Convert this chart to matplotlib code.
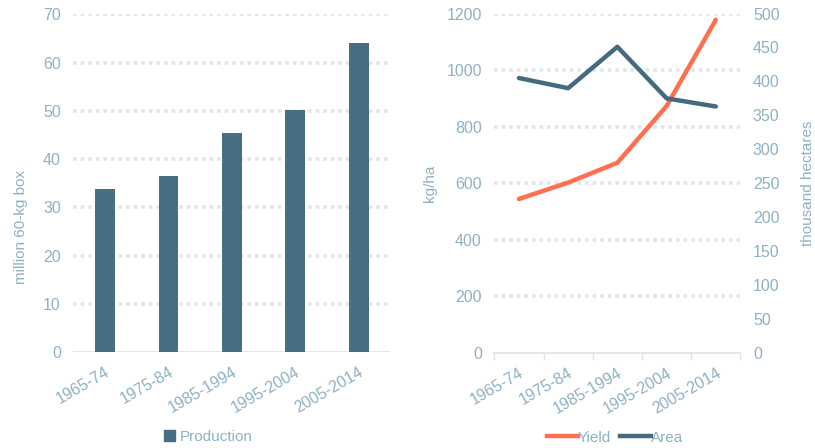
import matplotlib
matplotlib.use("Agg")
import matplotlib.pyplot as plt
from matplotlib.lines import Line2D
from matplotlib.patches import Patch
import numpy as np

plt.rcParams['font.family'] = ['Liberation Sans', 'DejaVu Sans']

periods = ["1965-74", "1975-84", "1985-1994", "1995-2004", "2005-2014"]
production = [33.8, 36.4, 45.5, 50.2, 64.0]
yield_kgha = [544, 602, 672, 873, 1178]
area_kha = [405, 390, 451, 375, 363]

TXT = "#8fb1c2"
GRID = "#dfe7ed"
BAR = "#476e84"
ORANGE = "#ff6e4f"
AREA = "#436a7f"
FS = 11.5

fig = plt.figure(figsize=(8.15, 4.48), dpi=100)

# Left: production bars
ax1 = fig.add_axes([0.090, 0.214, 0.389, 0.754])
x = np.arange(len(periods))
ax1.bar(x, production, width=0.31, color=BAR, zorder=3)
ax1.set_xlim(-0.5, len(periods) - 0.5)
ax1.set_ylim(0, 70)
ax1.set_yticks(range(0, 71, 10))
for v in range(10, 71, 10):
    ax1.axhline(v, color=GRID, lw=2.6, ls=(0, (1, 1.1)), zorder=1)
ax1.axhline(0, color="#d9e4ec", lw=1.2, zorder=2)
for s in ax1.spines.values():
    s.set_visible(False)
ax1.set_xticks(x)
ax1.set_xticklabels(periods, rotation=30, ha="right", rotation_mode="anchor")
ax1.tick_params(axis="both", length=0, colors=TXT, labelsize=FS)
ax1.tick_params(axis="y", pad=9)
ax1.tick_params(axis="x", pad=9)
ax1.set_ylabel("million 60-kg box", color=TXT, fontsize=11)
ax1.yaxis.set_label_coords(-0.143, 0.37)
leg1 = ax1.legend(handles=[Patch(color=BAR, label="Production")], loc="center",
                  bbox_to_anchor=(0.425, -0.251), frameon=False, fontsize=11,
                  handlelength=0.7, handleheight=0.7, handletextpad=0.3,
                  borderaxespad=0, borderpad=0)
for t in leg1.get_texts():
    t.set_color(TXT)

# Right: yield and area lines
ax2 = fig.add_axes([0.6065, 0.2127, 0.302, 0.757])
ax2.plot(x, yield_kgha, color=ORANGE, lw=3.2, solid_capstyle="round", zorder=4)
ax2.set_xlim(-0.5, len(periods) - 0.5)
ax2.set_ylim(0, 1200)
ax2.set_yticks(range(0, 1201, 200))
for v in range(200, 1201, 200):
    ax2.axhline(v, color=GRID, lw=2.6, ls=(0, (1, 1.1)), zorder=1)
for s in ax2.spines.values():
    s.set_visible(False)
ax2.spines["bottom"].set_visible(True)
ax2.spines["bottom"].set_color("#d9e4ec")
ax2.spines["bottom"].set_linewidth(1.2)
ax2.set_xticks(np.arange(-0.5, len(periods), 1.0), minor=False)
ax2.set_xticklabels([])
ax2.set_xticks(x, minor=True)
ax2.set_xticklabels(periods, minor=True, rotation=30, ha="right", rotation_mode="anchor")
ax2.tick_params(axis="x", which="major", length=5, color="#d9e4ec", width=1)
ax2.tick_params(axis="x", which="minor", length=0, colors=TXT, labelsize=FS, pad=9)
ax2.tick_params(axis="y", length=0, colors=TXT, labelsize=FS, pad=9)
ax2.set_ylabel("kg/ha", color=TXT, fontsize=11, labelpad=7)

ax3 = ax2.twinx()
ax3.plot(x, area_kha, color=AREA, lw=3.2, solid_capstyle="round", zorder=5)
ax3.set_ylim(0, 500)
ax3.set_yticks(range(0, 501, 50))
for s in ax3.spines.values():
    s.set_visible(False)
ax3.tick_params(axis="y", length=0, colors=TXT, labelsize=FS, pad=9)
ax3.set_ylabel("thousand hectares", color=TXT, fontsize=11, labelpad=15)

handles = [Line2D([], [], color=ORANGE, lw=3.2, label="Yield"),
           Line2D([], [], color=AREA, lw=3.2, label="Area")]
leg2 = ax2.legend(handles=handles, loc="center", bbox_to_anchor=(0.49, -0.251),
                  frameon=False, fontsize=11, ncol=2, handlelength=2.0,
                  handletextpad=0.0, columnspacing=0.6,
                  borderaxespad=0, borderpad=0)
for t in leg2.get_texts():
    t.set_color(TXT)

fig.savefig("out.png", dpi=100)
